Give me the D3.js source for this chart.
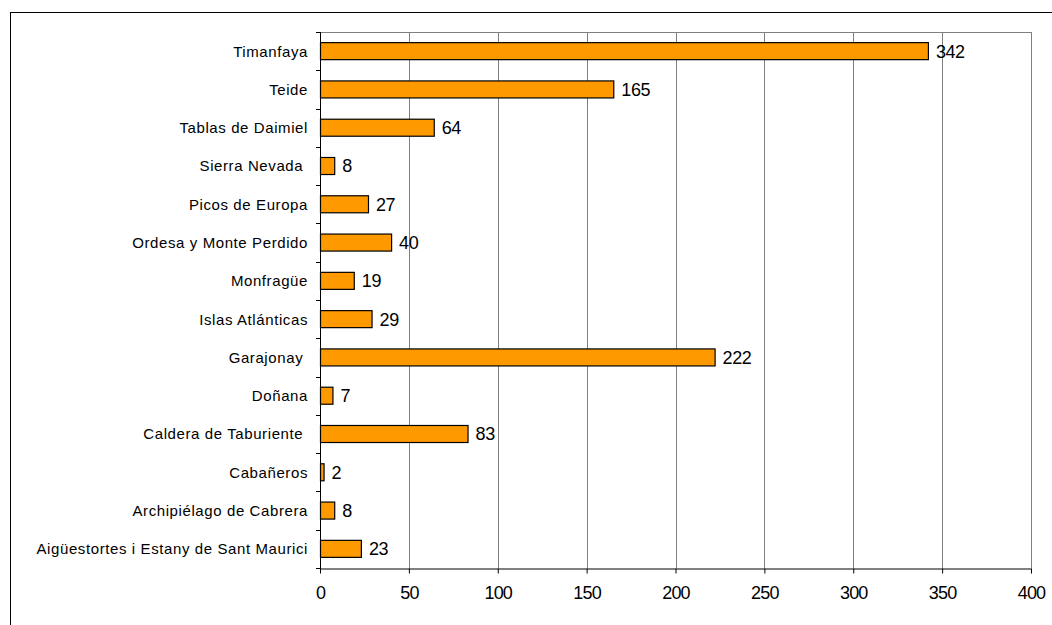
<!DOCTYPE html>
<html>
<head>
<meta charset="utf-8">
<script src="https://cdn.jsdelivr.net/npm/d3@7"></script>
<style>
  html, body { margin: 0; padding: 0; background: #fff; }
  svg { display: block; font-family: "Liberation Sans", Arial, sans-serif; }
</style>
</head>
<body>
<script>
const categories = [
  "Timanfaya",
  "Teide",
  "Tablas de Daimiel",
  "Sierra Nevada ",
  "Picos de Europa",
  "Ordesa y Monte Perdido",
  "Monfragüe",
  "Islas Atlánticas",
  "Garajonay ",
  "Doñana",
  "Caldera de Taburiente ",
  "Cabañeros",
  "Archipiélago de Cabrera",
  "Aigüestortes i Estany de Sant Maurici"
];
const values = [342, 165, 64, 8, 27, 40, 19, 29, 222, 7, 83, 2, 8, 23];
const xTicks = [0, 50, 100, 150, 200, 250, 300, 350, 400];

const W = 1052, H = 625;
const plot = { left: 320, right: 1031, top: 32, bottom: 568 };

const svg = d3.select("body").append("svg")
  .attr("width", W).attr("height", H);

// outer chart border (extends beyond the viewport on right/bottom)
svg.append("rect")
  .attr("x", 10.5).attr("y", 12.5)
  .attr("width", 1200).attr("height", 800)
  .attr("fill", "none").attr("stroke", "#000").attr("stroke-width", 1);

const x = d3.scaleLinear().domain([0, 400]).range([plot.left, plot.right]);
const y = d3.scaleBand().domain(categories).range([plot.top, plot.bottom]).padding(0);
const barH = y.bandwidth() / 2.25;

// gridlines
svg.append("g").selectAll("line")
  .data(xTicks.filter(d => d > 0))
  .join("line")
  .attr("x1", d => Math.round(x(d)) + 0.5).attr("x2", d => Math.round(x(d)) + 0.5)
  .attr("y1", plot.top).attr("y2", plot.bottom)
  .attr("stroke", "#808080").attr("stroke-width", 1);

// plot area top border
svg.append("line")
  .attr("x1", plot.left).attr("x2", Math.round(plot.right) + 0.5)
  .attr("y1", plot.top + 0.5).attr("y2", plot.top + 0.5)
  .attr("stroke", "#808080");

// bars
svg.append("g").selectAll("rect")
  .data(categories)
  .join("rect")
  .attr("x", x(0) + 0.5)
  .attr("y", (d) => y(d) + y.bandwidth() / 2 - barH / 2)
  .attr("width", (d, i) => x(values[i]) - x(0))
  .attr("height", barH)
  .attr("fill", "#FF9900")
  .attr("stroke", "#000").attr("stroke-width", 1.2);

// value labels
svg.append("g").selectAll("text")
  .data(categories)
  .join("text")
  .attr("x", (d, i) => x(values[i]) + 8)
  .attr("y", d => y(d) + y.bandwidth() / 2)
  .attr("dy", "0.36em")
  .attr("font-size", 18)
  .attr("letter-spacing", "-0.4px")
  .attr("fill", "#000")
  .text((d, i) => values[i]);

// x axis
const xAxis = svg.append("g")
  .attr("transform", `translate(0,${plot.bottom + 0.5})`)
  .call(d3.axisBottom(x).tickValues(xTicks).tickSize(5).tickSizeOuter(0).tickPadding(13));
xAxis.select(".domain").attr("stroke", "#000");
xAxis.selectAll(".tick line").attr("stroke", "#000");
xAxis.selectAll("text")
  .attr("font-size", 18)
  .attr("letter-spacing", "-0.8px")
  .attr("font-family", "'Liberation Sans', Arial, sans-serif")
  .attr("fill", "#000");

// y axis line
svg.append("line")
  .attr("x1", plot.left + 0.5).attr("x2", plot.left + 0.5)
  .attr("y1", plot.top).attr("y2", plot.bottom + 1)
  .attr("stroke", "#000");

// y axis ticks at category boundaries
const boundaries = categories.map(c => y(c)).concat([plot.bottom]);
svg.append("g").selectAll("line")
  .data(boundaries)
  .join("line")
  .attr("x1", plot.left - 4).attr("x2", plot.left)
  .attr("y1", d => Math.round(d) + 0.5).attr("y2", d => Math.round(d) + 0.5)
  .attr("stroke", "#000");

// category labels
svg.append("g").selectAll("text")
  .data(categories)
  .join("text")
  .attr("x", plot.left - 12)
  .attr("y", d => y(d) + y.bandwidth() / 2)
  .attr("dy", "0.36em")
  .attr("text-anchor", "end")
  .attr("font-size", 15)
  .attr("letter-spacing", "0.6px")
  .attr("xml:space", "preserve")
  .style("white-space", "pre")
  .attr("fill", "#000")
  .text(d => d);
</script>
</body>
</html>
